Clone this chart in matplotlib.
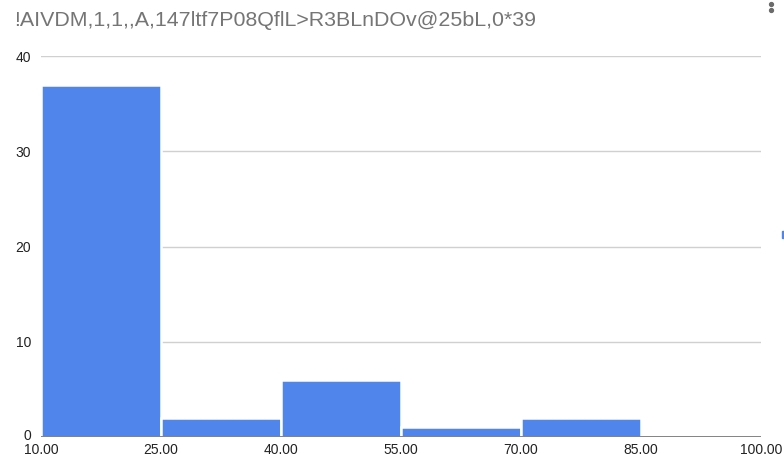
import matplotlib
matplotlib.use("Agg")
import matplotlib.pyplot as plt
from matplotlib.lines import Line2D
from matplotlib.patches import Rectangle
from matplotlib.transforms import ScaledTranslation

plt.rcParams['font.family'] = ['Liberation Sans', 'DejaVu Sans']

title = "!AIVDM,1,1,,A,147ltf7P08QflL>R3BLnDOv@25bL,0*39"
bin_edges = [10, 25, 40, 55, 70, 85, 100]
counts = [37, 2, 6, 1, 2, 0]
x_ticks = [10, 25, 40, 55, 70, 85, 100]
y_ticks = [0, 10, 20, 30, 40]

bar_color = "#5086ec"

fig = plt.figure(figsize=(7.84, 4.59), dpi=100)
ax = fig.add_axes([41 / 784, 1 - 437 / 459, 720 / 784, 381 / 459])

lefts = bin_edges[:-1]
widths = [b - a for a, b in zip(bin_edges[:-1], bin_edges[1:])]
ax.bar(lefts, counts, width=widths, align="edge", color=bar_color,
       edgecolor="white", linewidth=1.8, zorder=3)

ax.set_xlim(10, 100)
ax.set_ylim(0, 40)
ax.set_xticks(x_ticks)
ax.set_xticklabels([f"{v:.2f}" for v in x_ticks])
ax.set_yticks(y_ticks)
ax.set_yticklabels([str(v) for v in y_ticks])

ax.grid(axis="y", color="#d0d0d0", linewidth=1.0, zorder=0)
ax.axhline(0, color="#7a7a7a", linewidth=1.3, zorder=4)
for side in ["top", "right", "left", "bottom"]:
    ax.spines[side].set_visible(False)
ax.tick_params(axis="both", length=0, labelsize=10, colors="#222222")
ax.tick_params(axis="y", pad=7)
ax.tick_params(axis="x", pad=4)

# lift the zero label a little so it clears the x tick labels
zero_label = ax.get_yticklabels()[0]
zero_label.set_transform(zero_label.get_transform()
                         + ScaledTranslation(0, 2 / 100, fig.dpi_scale_trans))

fig.text(14 / 784, 1 - 20 / 459, title, fontsize=15.4, color="#757575",
         ha="left", va="center")

# menu dots in the top-right corner
for yy in (4, 10):
    fig.add_artist(Line2D([771 / 784], [1 - yy / 459], marker="o", markersize=2.8,
                          color="#6b6b6b", transform=fig.transFigure))

# clipped legend swatch at the right edge
fig.add_artist(Rectangle((782 / 784, 1 - 238 / 459), 3 / 784, 7 / 459,
                         transform=fig.transFigure, color=bar_color))

fig.savefig("out.png", dpi=100)
